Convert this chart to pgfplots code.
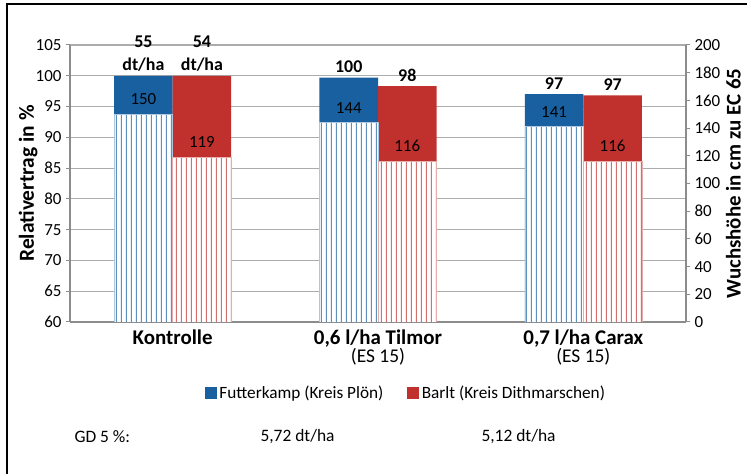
\documentclass[border=0pt]{standalone}
\usepackage{fontspec}
\setmainfont{Carlito}
\usepackage{pgfplots}
\pgfplotsset{compat=1.18}
\usetikzlibrary{patterns.meta}
\definecolor{fblue}{RGB}{24,96,160}
\definecolor{bred}{RGB}{192,49,46}
\definecolor{gridgray}{RGB}{172,172,172}
\definecolor{axgray}{RGB}{140,140,140}
\newcommand{\fs}[1]{\fontsize{#1}{#1}\selectfont}
\tikzdeclarepattern{
  name=vstripes,
  type=uncolored,
  bounding box={(0bp,0bp) and (5bp,300bp)},
  tile size={(5bp,300bp)},
  code={\pgfsetlinewidth{1.2bp}\pgfsetbuttcap\pgfpathmoveto{\pgfpoint{1.5bp}{0bp}}\pgfpathlineto{\pgfpoint{1.5bp}{300bp}}\pgfusepath{stroke}}
}
\begin{document}
\begin{tikzpicture}[x=1bp,y=1bp]
\useasboundingbox (-70,-152) rectangle (677,322);
\draw[black, line width=1.2bp] (-63,-152) -- (-63,318) -- (677,318);
\begin{axis}[
  at={(0,0)}, anchor=south west,
  scale only axis, width=616bp, height=277bp,
  xmin=-0.5, xmax=2.5, ymin=60, ymax=105,
  axis x line*=bottom, axis y line*=left,
  axis line style={axgray, line width=1.5bp, -},
  ytick={60,65,...,105},
  xtick={0,1,2},
  xticklabels={{\fs{21}\bfseries Kontrolle},{{\fs{21}\bfseries 0,6 l/ha Tilmor}\\{\fs{19.5}(ES 15)}},{{\fs{21}\bfseries 0,7 l/ha Carax}\\{\fs{19.5}(ES 15)}}},
  xticklabel style={align=center, yshift=0bp},
  xtick style={draw=none},
  ymajorgrids, grid style={gridgray, line width=1.1bp},
  ytick style={axgray, line width=1bp}, tick align=outside, major tick length=4bp,
  /pgf/number format/assume math mode=true,
  yticklabel style={font=\fs{17}, xshift=-1bp},
  ylabel={\bfseries Relativertrag in \%},
  ylabel style={at={(axis description cs:-0.068,0.5)}, anchor=center, font=\fs{21.5}},
  ybar, bar width=0.285,
  legend style={at={(0.5455,-0.256)}, anchor=center, draw=none, fill=none, legend columns=2,
    font=\fs{17.3}, /tikz/every even column/.append style={column sep=22bp},
    /tikz/every odd column/.append style={column sep=1bp}},
]
\addplot[forget plot, fill=fblue, draw=none, bar shift=-0.1425,
  point meta=explicit symbolic, nodes near coords,
  nodes near coords style={align=center, anchor=south, font=\fontsize{18}{23}\selectfont\bfseries, yshift=1bp, text=black}]
  coordinates {(0,100) [{55\\dt/ha}] (1,99.7) [100] (2,97.0) [97]};
\addplot[forget plot, fill=bred, draw=none, bar shift=0.1425,
  point meta=explicit symbolic, nodes near coords,
  nodes near coords style={align=center, anchor=south, font=\fontsize{18}{23}\selectfont\bfseries, yshift=1bp, text=black}]
  coordinates {(0,100) [{54\\dt/ha}] (1,98.3) [98] (2,96.8) [97]};
\addlegendimage{legend image code/.code={\fill[fblue] (0bp,-5.5bp) rectangle (11bp,5.5bp);}}
\addlegendentry{Futterkamp (Kreis Plön)}
\addlegendimage{legend image code/.code={\fill[bred] (0bp,-5.5bp) rectangle (11bp,5.5bp);}}
\addlegendentry{Barlt (Kreis Dithmarschen)}
\end{axis}
\begin{axis}[
  at={(0,0)}, anchor=south west,
  scale only axis, width=616bp, height=277bp,
  xmin=-0.5, xmax=2.5, ymin=0, ymax=200,
  axis x line=none, axis y line*=right,
  axis line style={axgray, line width=1.5bp, -},
  ytick={0,20,...,200},
  ytick style={axgray, line width=1bp}, tick align=outside, major tick length=4bp,
  /pgf/number format/assume math mode=true,
  yticklabel style={font=\fs{17}, xshift=1bp},
  ylabel={\bfseries Wuchshöhe in cm zu EC 65},
  ylabel style={at={(axis description cs:1.077,0.5)}, anchor=center, font=\fs{21}},
  ybar, bar width=0.285,
]
\addplot[fill=white, draw=fblue!35, line width=0.6bp,
  postaction={pattern=vstripes, pattern color=fblue!70},
  bar shift=-0.1425, nodes near coords,
  nodes near coords style={anchor=center, yshift=15bp, font=\fs{17}, text=black}]
  coordinates {(0,150) (1,144) (2,141)};
\addplot[fill=white, draw=bred!40, line width=0.6bp,
  postaction={pattern=vstripes, pattern color=bred!70},
  bar shift=0.1425, nodes near coords,
  nodes near coords style={anchor=center, yshift=15bp, font=\fs{17}, text=black}]
  coordinates {(0,119) (1,116) (2,116)};
\end{axis}
\node[anchor=west, font=\fs{17.5}] at (1,-115) {GD 5 \%:};
\node[anchor=west, font=\fs{17.5}] at (187,-115) {5,72 dt/ha};
\node[anchor=west, font=\fs{17.5}] at (408,-115) {5,12 dt/ha};
\end{tikzpicture}
\end{document}
